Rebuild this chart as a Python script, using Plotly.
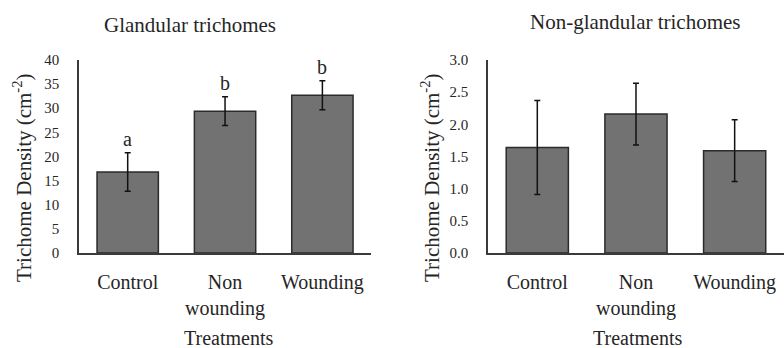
import plotly.graph_objects as go

categories = ["Control", "Non<br>wounding", "Wounding"]
glandular_mean = [16.8, 29.4, 32.7]
glandular_err = [4.0, 3.0, 3.0]
glandular_letters = ["a", "b", "b"]
nonglandular_mean = [1.64, 2.16, 1.59]
nonglandular_err = [0.73, 0.48, 0.48]
left_ticks = [0, 5, 10, 15, 20, 25, 30, 35, 40]
right_ticks = [0.0, 0.5, 1.0, 1.5, 2.0, 2.5, 3.0]

FONT = "Liberation Serif"
TXT = "#262626"
BAR = "#727272"
EDGE = "#2b2b2b"
AX = "#3a3a3a"

fig = go.Figure()

fig.add_trace(go.Bar(
    x=categories, y=glandular_mean, xaxis="x", yaxis="y",
    width=0.63, marker=dict(color=BAR, line=dict(color=EDGE, width=1.5)),
    error_y=dict(type="data", array=glandular_err, color="#111111", thickness=1.5, width=3),
    showlegend=False))
fig.add_trace(go.Bar(
    x=categories, y=nonglandular_mean, xaxis="x2", yaxis="y2",
    width=0.63, marker=dict(color=BAR, line=dict(color=EDGE, width=1.5)),
    error_y=dict(type="data", array=nonglandular_err, color="#111111", thickness=1.5, width=3),
    showlegend=False))

ydom = [0.273, 0.8276]
common_x = dict(showline=True, linecolor=AX, linewidth=2, ticks="", showgrid=False,
                tickfont=dict(family=FONT, size=20, color=TXT), ticklabelstandoff=10,
                range=[-0.5, 2.5], fixedrange=True, automargin=False)
common_y = dict(showline=True, linecolor=AX, linewidth=1.5, ticks="", showgrid=False,
                zeroline=False, tickfont=dict(family=FONT, size=15, color=TXT),
                ticklabelstandoff=15, automargin=False)

fig.update_layout(
    width=784, height=348,
    margin=dict(l=0, r=0, t=0, b=0, autoexpand=False),
    plot_bgcolor="white", paper_bgcolor="white",
    xaxis=dict(domain=[0.1008, 0.4733], anchor="y", **common_x),
    yaxis=dict(domain=ydom, anchor="x", range=[0, 40], tickvals=left_ticks,
               ticktext=[str(v) for v in left_ticks], **common_y),
    xaxis2=dict(domain=[0.6224, 1.0], anchor="y2", **common_x),
    yaxis2=dict(domain=ydom, anchor="x2", range=[0, 3.0], tickvals=right_ticks,
                ticktext=[f"{v:.1f}" for v in right_ticks], **common_y),
)

for cat, m, e, L in zip(categories, glandular_mean, glandular_err, glandular_letters):
    fig.add_annotation(x=cat, y=m + e, xref="x", yref="y", text=L, showarrow=False,
                       yanchor="bottom", yshift=1,
                       font=dict(family=FONT, size=20, color=TXT))


def label(x_px, y_px, text, size=19, angle=0):
    fig.add_annotation(x=x_px / 784, y=1 - y_px / 348, xref="paper", yref="paper",
                       xanchor="center", yanchor="middle", text=text, textangle=angle,
                       showarrow=False, font=dict(family=FONT, size=size, color=TXT))


label(190, 25, "Glandular trichomes", size=21)
label(635, 22, "Non-glandular trichomes", size=21)
label(22, 178, "Trichome Density (cm<sup>-2</sup>)", size=21, angle=-90)
label(430, 178, "Trichome Density (cm<sup>-2</sup>)", size=21, angle=-90)
label(229, 338, "Treatments", size=20)
label(637, 338, "Treatments", size=20)

fig.write_html("out.html")
